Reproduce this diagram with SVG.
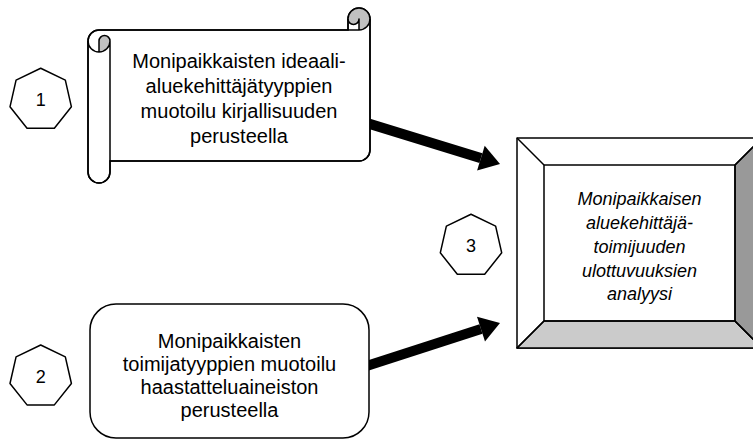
<svg xmlns="http://www.w3.org/2000/svg" width="753" height="441" viewBox="0 0 753 441">
<style>
.ln{fill:none;stroke:#000;stroke-width:1.5;stroke-linejoin:round}
.sh{fill:#fff;stroke:#000;stroke-width:1.5;stroke-linejoin:round}
.t{font-family:"Liberation Sans",Arial,sans-serif;font-size:20px;fill:#000;text-anchor:middle}
.ti{font-family:"Liberation Sans",Arial,sans-serif;font-size:18px;font-style:italic;fill:#000;text-anchor:middle}
.n{font-family:"Liberation Sans",Arial,sans-serif;font-size:18px;fill:#000;text-anchor:middle}
.arr{fill:none;stroke:#000;stroke-width:10}
</style>
<defs>
<marker id="ah" markerUnits="userSpaceOnUse" markerWidth="22" markerHeight="28" refX="0" refY="13" orient="auto" overflow="visible">
<path d="M0,0 L20,13 L0,26 Z" fill="#000"/>
</marker>
<polygon id="hept" points="0,-31.5 24.63,-19.64 30.71,7.01 13.67,28.38 -13.67,28.38 -30.71,7.01 -24.63,-19.64" class="sh"/>
</defs>
<g id="connectors">
<line class="arr" x1="356.6" y1="119.9" x2="480.9" y2="158.1" marker-end="url(#ah)"/>
<line class="arr" x1="357.3" y1="369.1" x2="481" y2="329.1" marker-end="url(#ah)"/>
</g>
<g id="scroll1">
<path class="sh" d="M88,41 A11,11 0 0 1 99,30 L348,30 L348,19 A11,11 0 0 1 370,19 L370,150 A11,11 0 0 1 359,161 L110,161 L110,172 A11,11 0 0 1 88,172 Z"/>
<path fill="#c0c0c0" d="M359,30 A11,11 0 1 0 348,19 A5.5,5.5 0 0 0 359,19 Z"/>
<path fill="#c0c0c0" d="M99,52 A11,11 0 0 0 110,41 A5.5,5.5 0 0 0 99,41 Z"/>
<path class="ln" d="M348,30 L359,30 A11,11 0 0 0 370,19 M359,30 L359,19 A5.5,5.5 0 0 1 348,19 M99,52 L99,41 A5.5,5.5 0 0 1 110,41 A11,11 0 0 1 88,41 M110,41 L110,161"/>
<path class="ln" d="M88,41 A11,11 0 0 1 99,30 L348,30 L348,19 A11,11 0 0 1 370,19 L370,150 A11,11 0 0 1 359,161 L110,161 L110,172 A11,11 0 0 1 88,172 Z"/>
<text class="t" x="239" y="68">Monipaikkaisten ideaali-</text>
<text class="t" x="239" y="93">aluekehittäjätyyppien</text>
<text class="t" x="239" y="118">muotoilu kirjallisuuden</text>
<text class="t" x="239" y="143">perusteella</text>
</g>
<g id="box2">
<rect class="sh" x="90" y="304" width="279" height="134" rx="26" ry="26"/>
<text class="t" x="229.5" y="348">Monipaikkaisten</text>
<text class="t" x="229.5" y="371">toimijatyyppien muotoilu</text>
<text class="t" x="229.5" y="394">haastatteluaineiston</text>
<text class="t" x="229.5" y="417">perusteella</text>
</g>
<g id="bevel3">
<rect class="sh" x="517" y="138" width="245" height="210"/>
<polygon points="517,348 762,348 735,321 544,321" fill="#cbcbcb" class="ln" style="fill:#cbcbcb"/>
<polygon points="762,138 762,348 735,321 735,165" class="ln" style="fill:#999999"/>
<path class="ln" d="M517,138 L544,165 M762,138 L735,165 M517,348 L544,321 M762,348 L735,321"/>
<rect class="ln" x="544" y="165" width="191" height="156"/>
<text class="ti" x="639.5" y="205">Monipaikkaisen</text>
<text class="ti" x="639.5" y="229">aluekehittäjä-</text>
<text class="ti" x="639.5" y="253">toimijuuden</text>
<text class="ti" x="639.5" y="277">ulottuvuuksien</text>
<text class="ti" x="639.5" y="300">analyysi</text>
</g>
<g id="hept1">
<use href="#hept" x="40.7" y="99.8"/>
<text class="n" x="40.7" y="106">1</text>
</g>
<g id="hept2">
<use href="#hept" x="40.7" y="376.5"/>
<text class="n" x="40.7" y="383">2</text>
</g>
<g id="hept3">
<use href="#hept" x="471" y="245.8"/>
<text class="n" x="471" y="252">3</text>
</g>
</svg>
